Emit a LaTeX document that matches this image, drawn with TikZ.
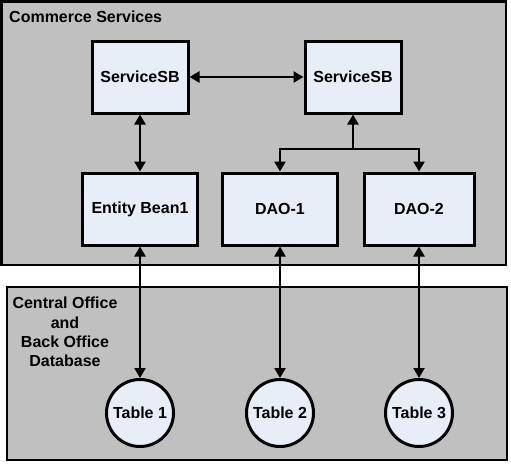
\documentclass[tikz,border=0pt]{standalone}
\usepackage{fontspec}
\setmainfont{Liberation Sans}
\usetikzlibrary{arrows.meta}
\definecolor{panelgray}{RGB}{192,192,192}
\definecolor{nodefill}{RGB}{232,238,248}
\begin{document}
\begin{tikzpicture}[x=1pt,y=-1pt,
  panel/.style={draw=black,fill=panelgray,line width=2.6pt},
  compbox/.style={draw=black,fill=nodefill,line width=3pt,minimum height=72pt,inner sep=0pt,font=\fontsize{16}{18}\selectfont\bfseries},
  tablenode/.style={draw=black,fill=nodefill,line width=3pt,circle,minimum size=67pt,inner sep=0pt,font=\fontsize{16}{18}\selectfont\bfseries},
  link/.style={line width=2.7pt,-{Triangle[length=10pt,width=11pt]}},
  dlink/.style={line width=2.7pt,{Triangle[length=10pt,width=11pt]}-{Triangle[length=10pt,width=11pt]}},
  paneltitle/.style={font=\fontsize{16}{19.3}\selectfont\bfseries,inner sep=0pt}]
\useasboundingbox (0,0) rectangle (511,463);
\fill[white] (0,0) rectangle (511,463);
\draw[panel] (1.3,1.3) rectangle (506,265);
\draw[panel] (7,287) rectangle (507,460);
\node[paneltitle,anchor=west] (title1) at (9,17) {Commerce Services};
\node[paneltitle,align=center,anchor=north] (title2) at (65,297) {Central Office\\and\\Back Office\\Database};
\node[compbox,minimum width=96pt] (sb1) at (140,77) {ServiceSB};
\node[compbox,minimum width=96pt] (sb2) at (353,77) {ServiceSB};
\node[compbox,minimum width=115pt] (eb) at (140,209) {Entity Bean1};
\node[compbox,minimum width=115pt] (dao1) at (280,209) {DAO-1};
\node[compbox,minimum width=110pt] (dao2) at (419,209) {DAO-2};
\node[tablenode] (t1) at (140,413) {Table 1};
\node[tablenode] (t2) at (280,413) {Table 2};
\node[tablenode] (t3) at (419,413) {Table 3};
\coordinate (junc) at (353,149);
\draw[dlink] (sb1.east) -- (sb2.west);
\draw[dlink] (sb1.south) -- (eb.north);
\draw[link] (junc) -- (sb2.south);
\draw[link] (junc) -| (dao1.north);
\draw[link] (junc) -| (dao2.north);
\draw[dlink] (eb.south) -- (t1.north);
\draw[dlink] (dao1.south) -- (t2.north);
\draw[dlink] (dao2.south) -- (t3.north);
\end{tikzpicture}
\end{document}
